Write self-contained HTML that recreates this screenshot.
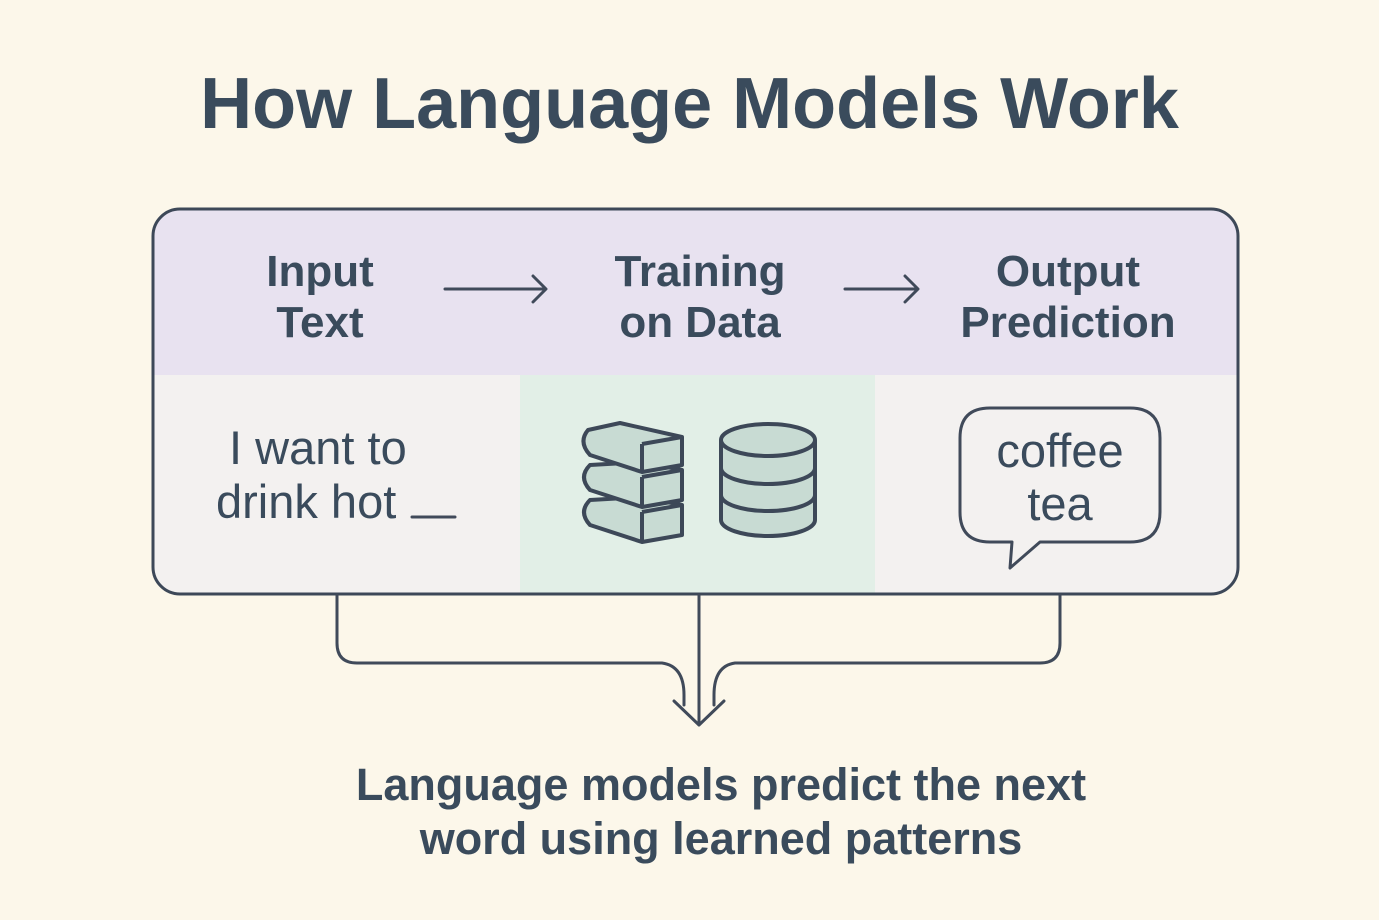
<!DOCTYPE html>
<html><head><style>
body{margin:0;width:1379px;height:920px;background:#fcf7ea;overflow:hidden;font-family:"Liberation Sans",sans-serif;color:#3a4b5c}
.t{position:absolute;text-align:center;white-space:nowrap}
</style></head><body>
<svg width="1379" height="920" style="position:absolute;left:0;top:0">
<defs><clipPath id="c"><rect x="153" y="209" width="1085" height="385" rx="27"/></clipPath></defs>
<g clip-path="url(#c)">
<rect x="150" y="205" width="1100" height="170" fill="#e8e2f0"/>
<rect x="150" y="375" width="370" height="230" fill="#f3f1f0"/>
<rect x="520" y="375" width="355" height="230" fill="#e2efe7"/>
<rect x="875" y="375" width="370" height="230" fill="#f3f1f0"/>
</g>
<rect x="153" y="209" width="1085" height="385" rx="27" fill="none" stroke="#3d4858" stroke-width="3"/>
<g fill="none" stroke="#404a5a" stroke-width="3" stroke-linecap="round" stroke-linejoin="round">
<path d="M445 289H545M533 276L546 289L533 302"/>
<path d="M845 289H917M905 276L918 289L905 302"/>
<path d="M337 595V643Q337 663 357 663H662Q684 666 684 695V705"/>
<path d="M1060 595V643Q1060 663 1040 663H735Q714 666 714 695V705"/>
<path d="M699 595V725M674 701L699 725L724 701"/>
<path d="M990 408H1130Q1160 408 1160 438V512Q1160 542 1130 542H1040L1010 568L1012 542H990Q960 542 960 512V438Q960 408 990 408Z"/>
<line x1="412" y1="517" x2="455" y2="517"/>
</g>
<g fill="#c8dbd3" stroke="#3d4858" stroke-width="4" stroke-linejoin="round">
<path d="M590 500L642 497L682 505L682 535L642 542L590 525Q578 512 590 500Z"/>
<path d="M642 512L682 505M642 512V542"/>
<path d="M590 465L642 462L682 470L682 500L642 507L590 490Q578 477 590 465Z"/>
<path d="M642 477L682 470M642 477V507"/>
<path d="M588 430L620 423L682 437L682 465L642 472L590 455Q578 442 588 430Z"/>
<path d="M642 444L682 437M642 444V472"/>
<path d="M721 440V520A47 16 0 0 0 815 520V440"/>
<ellipse cx="768" cy="440" rx="47" ry="16"/>
<path d="M721 468A47 16 0 0 0 815 468M721 495A47 16 0 0 0 815 495" fill="none"/>
</g>
</svg>
<div class="t" style="left:0;width:1379px;top:63px;font-size:72px;font-weight:bold">How Language Models Work</div>
<div class="t" style="left:220px;width:200px;top:246px;font-size:44px;font-weight:bold;line-height:51px">Input<br>Text</div>
<div class="t" style="left:570px;width:260px;top:246px;font-size:44px;font-weight:bold;line-height:51px">Training<br>on Data</div>
<div class="t" style="left:940px;width:256px;top:246px;font-size:44px;font-weight:bold;line-height:51px">Output<br>Prediction</div>
<div class="t" style="left:216px;width:200px;top:421px;font-size:47px;line-height:54px;text-align:left">&nbsp;I want to<br>drink hot</div>
<div class="t" style="left:960px;width:200px;top:424px;font-size:47px;line-height:53px">coffee<br>tea</div>
<div class="t" style="left:0;width:1442px;top:758px;font-size:45px;font-weight:bold;line-height:54px">Language models predict the next<br>word using learned patterns</div>
</body></html>
